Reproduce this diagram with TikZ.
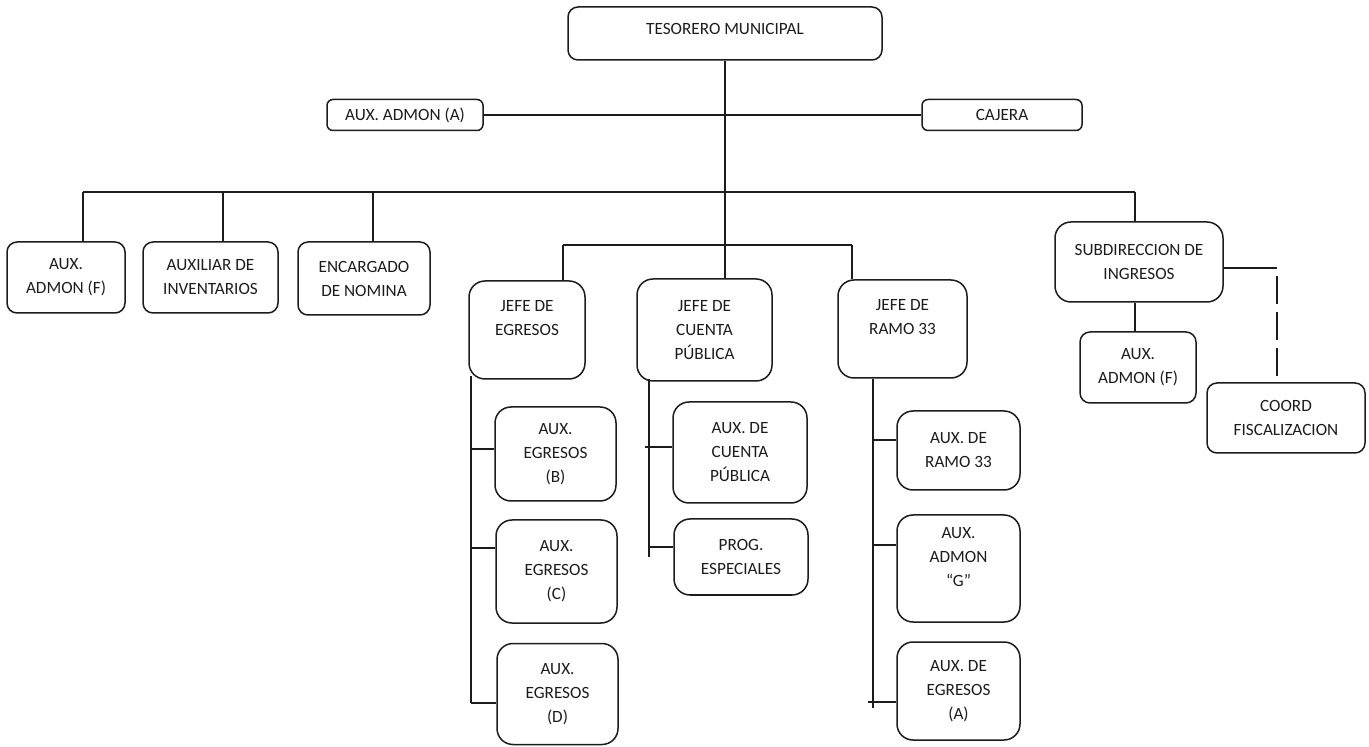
\documentclass[tikz,border=0pt]{standalone}
\usepackage{fontspec}
\setmainfont{Carlito}
\usetikzlibrary{calc}
\definecolor{ink}{RGB}{28,28,28}
\tikzset{
  link/.style={draw=ink,line width=0.7pt},
  staff/.style={link,dash pattern=on 14pt off 4pt,dash phase=14pt},
  unit/.style={rounded corners=5pt,draw=ink,line width=0.75pt,align=center,
               inner sep=0pt,text=ink,font=\fontsize{8.6}{12}\selectfont},
  bigunit/.style={unit,rounded corners=8pt},
  wh/.style 2 args={minimum width=#1*0.5pt,minimum height=#2*0.5pt}
}

\begin{document}
\begin{tikzpicture}[x=0.5pt,y=-0.5pt]
  \useasboundingbox (0,0) rectangle (1369,747);
  % head
  \node[unit,wh={314}{53}] (tes) at (725,33.5) {\raisebox{5pt}{TESORERO MUNICIPAL}};
  \node[unit,rounded corners=3pt,wh={156}{31}] (auxA) at (405,115) {AUX. ADMON (A)};
  \node[unit,rounded corners=3pt,wh={160}{31}] (caj) at (1002,115) {CAJERA};
  % left row
  \node[unit,wh={118}{71}] (auxF) at (66,277.5) {AUX.\\ADMON (F)};
  \node[unit,wh={135}{71}] (inv) at (210.5,277.5) {AUXILIAR DE\\INVENTARIOS};
  \node[unit,wh={132}{73}] (nom) at (364,278.5) {ENCARGADO\\DE NOMINA};
  % jefes
  \node[bigunit,wh={116}{98}] (jegr) at (527,330) {JEFE DE\\EGRESOS\\~};
  \node[bigunit,wh={135}{102}] (jcta) at (704.5,330) {JEFE DE\\CUENTA\\PÚBLICA};
  \node[bigunit,wh={129}{98}] (jram) at (902.5,329) {JEFE DE\\RAMO 33\\~};
  % egresos
  \node[bigunit,wh={121}{94}] (egrB) at (555.5,454) {AUX.\\EGRESOS\\(B)};
  \node[bigunit,wh={121}{103}] (egrC) at (556.5,571.5) {AUX.\\EGRESOS\\(C)};
  \node[bigunit,wh={121}{101}] (egrD) at (557.5,694) {AUX.\\EGRESOS\\(D)};
  % cuenta publica
  \node[bigunit,wh={134}{101}] (ctaAux) at (740,452.5) {AUX. DE\\CUENTA\\PÚBLICA};
  \node[bigunit,wh={134}{76}] (prog) at (741,557) {PROG.\\ESPECIALES};
  % ramo 33
  \node[bigunit,wh={123}{79}] (ramAux) at (958.5,450.5) {AUX. DE\\RAMO 33};
  \node[bigunit,wh={123}{107}] (ramG) at (958.5,568.5) {AUX.\\ADMON\\“G”\\~};
  \node[bigunit,wh={123}{98}] (ramEgr) at (958.5,691) {AUX. DE\\EGRESOS\\(A)};
  % ingresos
  \node[bigunit,wh={168}{80}] (subd) at (1139,262) {SUBDIRECCION DE\\INGRESOS};
  \node[unit,wh={116}{71}] (subAux) at (1138,367.5) {AUX.\\ADMON (F)};
  \node[unit,wh={158}{70}] (coord) at (1286,418) {COORD\\FISCALIZACION};

  % main bus
  \coordinate (busL) at (83,192);
  \coordinate (busM) at (725,192);
  \coordinate (busR) at (1135,192);
  \coordinate (dInv) at (223,192);
  \coordinate (dNom) at (373,192);
  \draw[link] (tes) -- (busM);
  \draw[link] (auxA) -- (caj);
  \draw[link] (busL) -- (busR);
  \draw[link] (busL) -- (busL |- auxF.north);
  \draw[link] (dInv) -- (dInv |- inv.north);
  \draw[link] (dNom) -- (dNom |- nom.north);
  \draw[link] (busM) -- (busM |- jcta.north);
  % jefes bus
  \coordinate (midL) at (563,245);
  \coordinate (midR) at (852,245);
  \draw[link] (midL) -- (midR);
  \draw[link] (midL) -- (midL |- jegr.north);
  \draw[link] (midR) -- (midR |- jram.north);
  % trunks
  \coordinate (egrT) at (471,376);
  \coordinate (ctaT) at (649,379);
  \coordinate (ramT) at (jram.south -| 873,0);
  \draw[link] (egrT) -- (egrT |- 0,703);
  \draw[link] (ctaT) -- (ctaT |- 0,557);
  \draw[link] (ramT) -- (ramT |- 0,708);
  \foreach \n/\y in {egrB/449,egrC/548,egrD/703}
    \draw[link] (egrT |- 0,\y) -- (\n.west |- 0,\y);
  \foreach \n/\y/\s in {ctaAux/447/-4,prog/547/0}
    \draw[link] ($(ctaT |- 0,\y)+(\s,0)$) -- (\n.west |- 0,\y);
  \foreach \n/\y/\s in {ramAux/440/0,ramG/545/0,ramEgr/702/-5}
    \draw[link] ($(ramT |- 0,\y)+(\s,0)$) -- (\n.west |- 0,\y);
  % ingresos
  \coordinate (fisK) at (1277,268);
  \draw[link] (busR) -- (busR |- subd.north);
  \draw[link] (subd.south -| busR) -- (busR |- subAux.north);
  \draw[link] (subd.east |- fisK) -- (fisK);
  \draw[staff] (fisK) -- (fisK |- coord.north);
\end{tikzpicture}
\end{document}
